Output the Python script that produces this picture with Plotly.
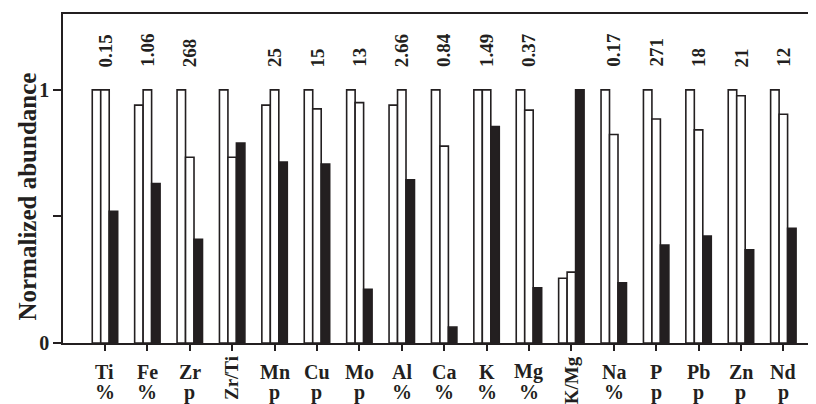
import plotly.graph_objects as go

cats = ["Ti", "Fe", "Zr", "Zr/Ti", "Mn", "Cu", "Mo", "Al", "Ca", "K", "Mg", "K/Mg",
        "Na", "P", "Pb", "Zn", "Nd"]
units = ["%", "%", "p", "", "p", "p", "p", "%", "%", "%", "%", "", "%", "p", "p", "p", "p"]
top_labels = ["0.15", "1.06", "268", "", "25", "15", "13", "2.66", "0.84", "1.49", "0.37", "",
              "0.17", "271", "18", "21", "12"]
rotated_cats = ["Zr/Ti", "K/Mg"]

series1 = [1.0, 0.94, 1.0, 1.0, 0.94, 1.0, 1.0, 0.94, 1.0, 1.0, 1.0, 0.256, 1.0, 1.0, 1.0, 1.0, 1.0]
series2 = [1.0, 1.0, 0.734, 0.734, 1.0, 0.925, 0.95, 1.0, 0.778, 1.0, 0.92, 0.28, 0.824, 0.885,
           0.842, 0.977, 0.904]
series3 = [0.52, 0.63, 0.41, 0.79, 0.715, 0.707, 0.212, 0.645, 0.063, 0.855, 0.218, 1.0, 0.238,
           0.387, 0.423, 0.368, 0.453]

ink = "#231f20"
FONT = "Liberation Serif"


def f(size):
    return dict(family=FONT, size=size, color=ink, weight="bold")


fig = go.Figure()
for vals, fill in [(series1, "white"), (series2, "white"), (series3, ink)]:
    fig.add_trace(go.Bar(x=cats, y=vals, marker=dict(color=fill, line=dict(color=ink, width=1.6)),
                         showlegend=False))

ann = []
for c, t, u in zip(cats, top_labels, units):
    if t:
        ann.append(dict(x=c, y=0.833, xref="x", yref="paper", text=t, showarrow=False,
                        textangle=-90, xanchor="center", yanchor="bottom", font=f(19)))
    if c in rotated_cats:
        ann.append(dict(x=c, y=-0.033, xref="x", yref="paper", text=c, showarrow=False,
                        textangle=-90, xanchor="center", yanchor="top", font=f(19)))
    else:
        ann.append(dict(x=c, y=-0.088, xref="x", yref="paper", text=c, showarrow=False,
                        xanchor="center", yanchor="middle", font=f(20)))
        ann.append(dict(x=c, y=-0.149, xref="x", yref="paper", text=u, showarrow=False,
                        xanchor="center", yanchor="middle", font=f(20)))

ann.append(dict(x=-0.047, y=0.444, xref="paper", yref="paper", text="Normalized abundance",
                showarrow=False, textangle=-90, xanchor="center", yanchor="middle", font=f(25)))

fig.update_layout(
    width=808, height=396,
    margin=dict(l=55, r=0, t=6, b=61),
    paper_bgcolor="white", plot_bgcolor="white",
    barmode="group", bargap=0.4, bargroupgap=0,
    annotations=ann,
    xaxis=dict(range=[-0.99, 16.77], showline=True, linecolor=ink, linewidth=1.6, mirror=True,
               ticks="outside", ticklen=6, tickcolor=ink, tickwidth=1.6, showticklabels=False,
               showgrid=False, zeroline=False),
    yaxis=dict(range=[0, 1.3], showline=True, linecolor=ink, linewidth=1.6, ticks="outside",
               ticklen=8, tickcolor=ink, tickwidth=1.6, tickvals=[0, 0.5, 1],
               ticktext=["0", "", "1"], showgrid=False, zeroline=False, tickfont=f(20)),
)

fig.write_html("out.html")
